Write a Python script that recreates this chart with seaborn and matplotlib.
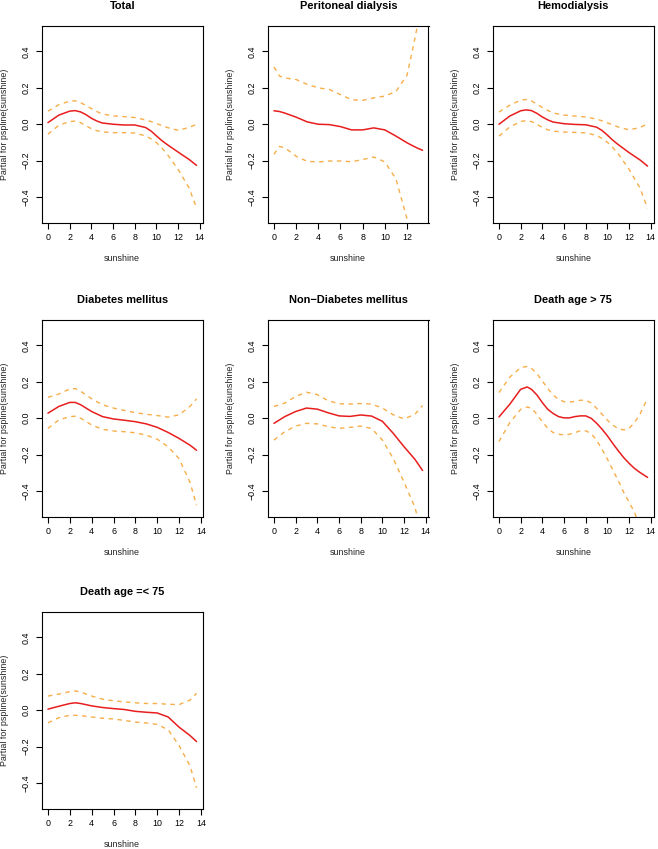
import numpy as np
import pandas as pd
import matplotlib
matplotlib.use("Agg")
import matplotlib.pyplot as plt
import seaborn as sns

# ---------------- data ----------------
titles = ["Total", "Peritoneal dialysis", "Hemodialysis",
          "Diabetes mellitus", "Non\u2212Diabetes mellitus", "Death age > 75",
          "Death age =< 75"]

x_total = [0, 1, 2, 2.5, 3, 3.5, 4, 4.5, 5, 6, 7, 8, 9, 9.5, 10, 10.5, 11, 12, 13, 13.7]
fit_total = [0.009, 0.050, 0.072, 0.075, 0.068, 0.053, 0.033, 0.018, 0.007, 0.000, -0.004, -0.004, -0.018, -0.037, -0.064, -0.090, -0.112, -0.153, -0.193, -0.226]
up_total = [0.072, 0.107, 0.127, 0.129, 0.119, 0.103, 0.086, 0.070, 0.057, 0.046, 0.042, 0.037, 0.024, 0.015, 0.004, -0.007, -0.018, -0.033, -0.018, 0.000]
lo_total = [-0.055, -0.006, 0.015, 0.017, 0.009, -0.008, -0.024, -0.035, -0.042, -0.046, -0.046, -0.048, -0.064, -0.080, -0.101, -0.130, -0.165, -0.248, -0.349, -0.460]

x_pd = [0, 0.5, 1, 2, 3, 4, 5, 6, 7, 8, 9, 10, 11, 12, 12.5, 13, 13.4]
fit_pd = [0.074, 0.070, 0.061, 0.039, 0.013, 0.000, -0.002, -0.013, -0.031, -0.031, -0.020, -0.031, -0.065, -0.102, -0.118, -0.133, -0.143]
up_pd = [0.315, 0.265, 0.254, 0.246, 0.219, 0.200, 0.191, 0.163, 0.135, 0.131, 0.145, 0.155, 0.180, 0.270, 0.410, 0.560, 0.750]
lo_pd = [-0.165, -0.122, -0.130, -0.176, -0.204, -0.207, -0.202, -0.202, -0.206, -0.194, -0.180, -0.207, -0.300, -0.520, -0.700, -0.900, -1.100]

x_hd = [0, 1, 2, 2.5, 3, 3.5, 4, 4.5, 5, 6, 7, 8, 9, 9.5, 10, 10.5, 11, 12, 13, 13.7]
fit_hd = [0.000, 0.045, 0.074, 0.079, 0.075, 0.060, 0.040, 0.024, 0.012, 0.003, -0.001, -0.003, -0.016, -0.034, -0.060, -0.088, -0.112, -0.156, -0.196, -0.230]
up_hd = [0.067, 0.105, 0.132, 0.136, 0.128, 0.110, 0.092, 0.076, 0.062, 0.050, 0.045, 0.040, 0.028, 0.019, 0.008, -0.004, -0.015, -0.031, -0.018, 0.002]
lo_hd = [-0.065, -0.015, 0.015, 0.020, 0.015, 0.000, -0.018, -0.030, -0.038, -0.043, -0.045, -0.047, -0.062, -0.078, -0.099, -0.128, -0.163, -0.248, -0.350, -0.462]

x_dm = [0, 1, 2, 2.5, 3, 4, 5, 6, 7, 8, 9, 10, 11, 12, 13, 13.6]
fit_dm = [0.028, 0.065, 0.087, 0.087, 0.074, 0.037, 0.009, -0.004, -0.011, -0.019, -0.031, -0.050, -0.078, -0.111, -0.148, -0.176]
up_dm = [0.115, 0.133, 0.161, 0.163, 0.148, 0.107, 0.074, 0.056, 0.043, 0.031, 0.022, 0.015, 0.006, 0.019, 0.065, 0.107]
lo_dm = [-0.056, -0.009, 0.009, 0.011, 0.000, -0.037, -0.061, -0.070, -0.074, -0.080, -0.093, -0.115, -0.157, -0.222, -0.352, -0.478]

x_ndm = [0, 1, 2, 3, 4, 5, 6, 7, 8, 9, 10, 11, 12, 13, 13.7]
fit_ndm = [-0.028, 0.009, 0.037, 0.056, 0.050, 0.030, 0.013, 0.010, 0.018, 0.012, -0.017, -0.083, -0.157, -0.226, -0.287]
up_ndm = [0.065, 0.083, 0.120, 0.143, 0.130, 0.096, 0.080, 0.078, 0.081, 0.078, 0.056, 0.019, -0.004, 0.022, 0.070]
lo_ndm = [-0.120, -0.074, -0.043, -0.028, -0.031, -0.046, -0.056, -0.050, -0.043, -0.056, -0.120, -0.222, -0.352, -0.490, -0.650]

x_old = [0, 1, 2, 2.6, 3, 3.5, 4, 4.5, 5, 5.5, 6, 6.5, 7, 7.5, 8, 8.5, 9, 9.5, 10, 10.5, 11, 11.5, 12, 12.5, 13, 13.7]
fit_old = [0.007, 0.077, 0.159, 0.172, 0.159, 0.128, 0.086, 0.049, 0.026, 0.009, 0.002, 0.002, 0.009, 0.013, 0.013, 0.000, -0.027, -0.060, -0.097, -0.139, -0.179, -0.216, -0.248, -0.276, -0.298, -0.325]
up_old = [0.141, 0.226, 0.278, 0.285, 0.274, 0.245, 0.205, 0.163, 0.128, 0.104, 0.091, 0.089, 0.093, 0.099, 0.099, 0.084, 0.055, 0.022, -0.011, -0.038, -0.057, -0.064, -0.055, -0.024, 0.022, 0.110]
lo_old = [-0.128, -0.024, 0.049, 0.062, 0.055, 0.022, -0.020, -0.055, -0.079, -0.088, -0.091, -0.088, -0.079, -0.069, -0.069, -0.084, -0.121, -0.170, -0.225, -0.285, -0.343, -0.407, -0.462, -0.517, -0.600, -0.720]

x_young = [0, 1, 2, 2.5, 3, 4, 5, 6, 7, 8, 9, 10, 11, 12, 13, 13.6]
fit_young = [0.006, 0.022, 0.037, 0.041, 0.037, 0.024, 0.015, 0.009, 0.004, -0.006, -0.011, -0.015, -0.037, -0.093, -0.139, -0.172]
up_young = [0.078, 0.089, 0.102, 0.106, 0.100, 0.078, 0.061, 0.052, 0.046, 0.041, 0.037, 0.037, 0.033, 0.031, 0.056, 0.093]
lo_young = [-0.069, -0.041, -0.028, -0.028, -0.030, -0.037, -0.044, -0.048, -0.056, -0.065, -0.070, -0.078, -0.107, -0.194, -0.306, -0.426]

y_ticks = [-0.4, -0.2, 0.0, 0.2, 0.4]
x_ticks = [0, 2, 4, 6, 8, 10, 12, 14]
x_label = "sunshine"
y_label = "Partial for pspline(sunshine)"

panels = [
    (x_total, fit_total, up_total, lo_total),
    (x_pd, fit_pd, up_pd, lo_pd),
    (x_hd, fit_hd, up_hd, lo_hd),
    (x_dm, fit_dm, up_dm, lo_dm),
    (x_ndm, fit_ndm, up_ndm, lo_ndm),
    (x_old, fit_old, up_old, lo_old),
    (x_young, fit_young, up_young, lo_young),
]

# ---------------- style ----------------
sns.set_theme(style="white")
plt.rcParams["font.family"] = ["Liberation Sans", "DejaVu Sans"]
plt.rcParams["axes.unicode_minus"] = True

W, H = 658, 849
fig = plt.figure(figsize=(W / 100, H / 100), dpi=100)
fig.patch.set_facecolor("white")

col_left = [42, 268, 493]
row_top = [26, 320, 612]
ax_w, ax_h = 160.5, 196.5

RED = "#E81E1E"
ORANGE = "#F7AE4A"
BASE = 6.4

for i, (title, (xs, fit, up, lo)) in enumerate(zip(titles, panels)):
    r, c = divmod(i, 3)
    left = col_left[c] / W
    bottom = (H - row_top[r] - ax_h) / H
    ax = fig.add_axes([left, bottom, ax_w / W, ax_h / H])

    df = pd.DataFrame({"sunshine": xs, "fit": fit, "upper": up, "lower": lo})
    sns.lineplot(data=df, x="sunshine", y="upper", ax=ax, color=ORANGE,
                 linewidth=1.0, linestyle=(0, (3.2, 3.2)), errorbar=None)
    sns.lineplot(data=df, x="sunshine", y="lower", ax=ax, color=ORANGE,
                 linewidth=1.0, linestyle=(0, (3.2, 3.2)), errorbar=None)
    sns.lineplot(data=df, x="sunshine", y="fit", ax=ax, color=RED,
                 linewidth=1.1, errorbar=None)

    xmin, xmax = min(xs), max(xs)
    rng = xmax - xmin
    ax.set_xlim(xmin - 0.04 * rng, xmax + 0.04 * rng)
    ax.set_ylim(-0.54, 0.54)

    ax.set_xticks([t for t in x_ticks if t <= xmax + 0.04 * rng])
    ax.set_xticklabels([str(t) for t in x_ticks if t <= xmax + 0.04 * rng])
    ax.set_yticks(y_ticks)
    ax.set_yticklabels([f"{v:.1f}".replace("-", "\u2212") for v in y_ticks],
                       rotation=90, va="center")

    for s in ax.spines.values():
        s.set_visible(True)
        s.set_color("black")
        s.set_linewidth(0.8)

    ax.tick_params(axis="x", which="both", bottom=True, top=False, direction="out",
                   length=4.3, width=0.8, pad=3.6, labelsize=BASE, colors="black")
    ax.tick_params(axis="y", which="both", left=True, right=False, direction="out",
                   length=4.3, width=0.8, pad=3.8, labelsize=BASE, colors="black")

    ax.set_xlabel(x_label, fontsize=BASE, color="#222222")
    ax.set_ylabel(y_label, fontsize=BASE, color="#222222")
    ax.xaxis.set_label_coords(0.5, -31.5 / ax_h)
    ax.yaxis.set_label_coords(-33.0 / ax_w, 0.5)

    ax.set_title(title, fontsize=7.9, fontweight="bold", pad=12.3, color="black")
    ax.grid(False)
    ax.set_facecolor("white")

fig.savefig("out.png", dpi=100, facecolor="white")
